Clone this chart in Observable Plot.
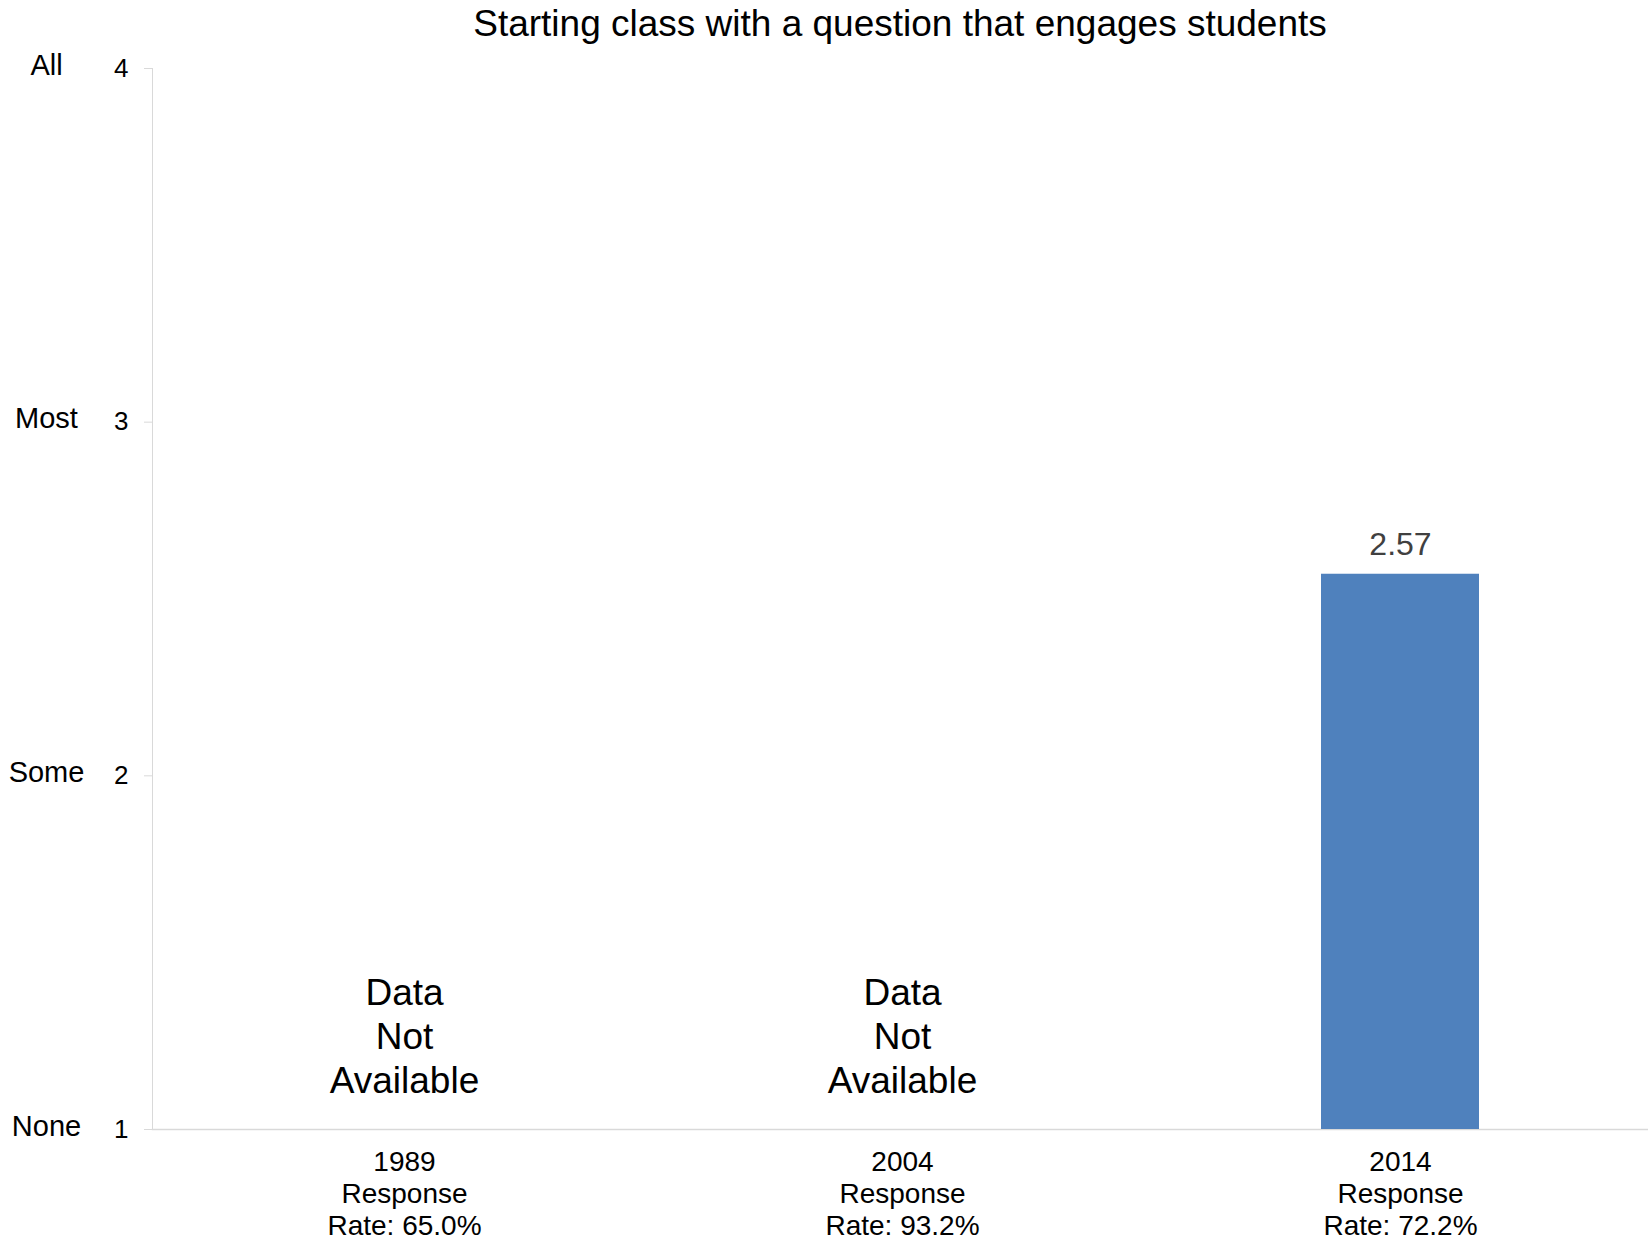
<!DOCTYPE html>
<html>
<head>
<meta charset="utf-8">
<script src="https://cdn.jsdelivr.net/npm/d3@7"></script>
<script src="https://cdn.jsdelivr.net/npm/@observablehq/plot@0.6"></script>
<style>
  html, body { margin: 0; padding: 0; background: #fff; }
  #wrap { position: relative; width: 1648px; height: 1242px; font-family: "Liberation Sans", Arial, sans-serif; }
  #title { position: absolute; left: 152px; width: 1496px; top: 5px; text-align: center; font-size: 37px; line-height: 37px; color: #000; }
  #chart svg { display: block; }
</style>
</head>
<body>
<div id="wrap">
  <div id="chart"></div>
  <div id="title">Starting class with a question that engages students</div>
</div>
<script>
const titleText = "Starting class with a question that engages students";
const years = ["1989", "2004", "2014"];
const responseRates = ["65.0%", "93.2%", "72.2%"];
const means = [null, null, 2.57];
const levelValues = [1, 2, 3, 4];
const levelLabels = ["None", "Some", "Most", "All"];
const missingText = "Data\nNot\nAvailable";

const rows = years.map((y, i) => ({year: y, rate: responseRates[i], mean: means[i]}));
const bars = rows.filter(d => d.mean != null);
const missing = rows.filter(d => d.mean == null);
const levels = levelValues.map((v, i) => ({value: v, label: levelLabels[i]}));
const tickLabel = Object.fromEntries(rows.map(d => [d.year, `${d.year}\nResponse\nRate: ${d.rate}`]));

const font = "Liberation Sans, Arial, sans-serif";

const chart = Plot.plot({
  width: 1648,
  height: 1242,
  marginLeft: 152,
  marginRight: 0,
  marginTop: 68,
  marginBottom: 113,
  style: {fontFamily: font, background: "#fff", color: "#000"},
  x: {type: "band", domain: years, paddingInner: 0.683, paddingOuter: 0.3415, align: 0.507},
  y: {domain: [1, 4]},
  marks: [
    Plot.frame({anchor: "left", stroke: "#d9d9d9", strokeWidth: 1}),
    Plot.frame({anchor: "bottom", stroke: "#d9d9d9", strokeWidth: 1.5}),
    Plot.axisY({ticks: levelValues, tickSize: 8, tickPadding: 16, stroke: "#d9d9d9", fill: "#000", fontSize: 26, tickFormat: d => String(d), label: null}),
    Plot.text(levels, {y: "value", text: "label", frameAnchor: "left", dx: -106, dy: -3, textAnchor: "middle", fontSize: 29, fill: "#000"}),
    Plot.axisX({tickSize: 0, tickPadding: 19, fontSize: 28, lineHeight: 1.14, fill: "#000", tickFormat: d => tickLabel[d], label: null}),
    Plot.barY(bars, {x: "year", y1: 1, y2: "mean", fill: "#4f81bd"}),
    Plot.text(bars, {x: "year", y: "mean", text: d => d.mean.toFixed(2), lineAnchor: "bottom", dy: -19, fontSize: 32, fill: "#404040"}),
    Plot.text(missing, {x: "year", y: () => 1, text: () => missingText, lineAnchor: "bottom", dy: -37, fontSize: 37, lineHeight: 1.18, fill: "#000"})
  ]
});
document.getElementById("chart").appendChild(chart);
document.getElementById("title").textContent = titleText;
</script>
</body>
</html>
